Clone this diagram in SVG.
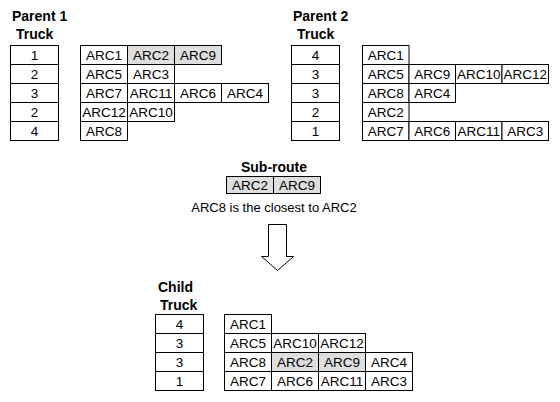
<svg xmlns="http://www.w3.org/2000/svg" width="560" height="402" viewBox="0 0 560 402">
<style>
rect{fill:#fff;stroke:#000;stroke-width:1}
rect.g{fill:#dedede}
text{font-family:"Liberation Sans",Arial,sans-serif;font-size:13.5px;fill:#000;text-anchor:middle}
text.t{font-weight:bold;font-size:14px;text-anchor:start}
text.c{font-size:13px}
</style>
<rect width="560" height="402" style="fill:#fff;stroke:none"/>
<g id="parent1">
<text class="t" x="12" y="21">Parent 1</text>
<text class="t" x="16" y="39">Truck</text>
<g id="p1-truck">
<rect x="10.5" y="45.5" width="48" height="19"/><text x="34.5" y="60">1</text>
<rect x="10.5" y="64.5" width="48" height="19"/><text x="34.5" y="79">2</text>
<rect x="10.5" y="83.5" width="48" height="19"/><text x="34.5" y="98">3</text>
<rect x="10.5" y="102.5" width="48" height="19"/><text x="34.5" y="117">2</text>
<rect x="10.5" y="121.5" width="48" height="19"/><text x="34.5" y="136">4</text>
</g>
<g id="p1-arcs">
<rect x="80.5" y="45.5" width="47" height="19"/><text x="104" y="60">ARC1</text>
<rect class="g" x="127.5" y="45.5" width="47" height="19"/><text x="151" y="60">ARC2</text>
<rect class="g" x="174.5" y="45.5" width="47" height="19"/><text x="198" y="60">ARC9</text>
<rect x="80.5" y="64.5" width="47" height="19"/><text x="104" y="79">ARC5</text>
<rect x="127.5" y="64.5" width="47" height="19"/><text x="151" y="79">ARC3</text>
<rect x="80.5" y="83.5" width="47" height="19"/><text x="104" y="98">ARC7</text>
<rect x="127.5" y="83.5" width="47" height="19"/><text x="151" y="98">ARC11</text>
<rect x="174.5" y="83.5" width="47" height="19"/><text x="198" y="98">ARC6</text>
<rect x="221.5" y="83.5" width="47" height="19"/><text x="245" y="98">ARC4</text>
<rect x="80.5" y="102.5" width="47" height="19"/><text x="104" y="117">ARC12</text>
<rect x="127.5" y="102.5" width="47" height="19"/><text x="151" y="117">ARC10</text>
<rect x="80.5" y="121.5" width="47" height="19"/><text x="104" y="136">ARC8</text>
</g>
</g>
<g id="parent2">
<text class="t" x="293" y="21">Parent 2</text>
<text class="t" x="297" y="39">Truck</text>
<g id="p2-truck">
<rect x="291.5" y="45.5" width="48" height="19"/><text x="315.5" y="60">4</text>
<rect x="291.5" y="64.5" width="48" height="19"/><text x="315.5" y="79">3</text>
<rect x="291.5" y="83.5" width="48" height="19"/><text x="315.5" y="98">3</text>
<rect x="291.5" y="102.5" width="48" height="19"/><text x="315.5" y="117">2</text>
<rect x="291.5" y="121.5" width="48" height="19"/><text x="315.5" y="136">1</text>
</g>
<g id="p2-arcs">
<rect x="362.5" y="45.5" width="46.5" height="19"/><text x="385.75" y="60">ARC1</text>
<rect x="362.5" y="64.5" width="46.5" height="19"/><text x="385.75" y="79">ARC5</text>
<rect x="409" y="64.5" width="46.5" height="19"/><text x="432.25" y="79">ARC9</text>
<rect x="455.5" y="64.5" width="46.5" height="19"/><text x="478.75" y="79">ARC10</text>
<rect x="502" y="64.5" width="46.5" height="19"/><text x="525.25" y="79">ARC12</text>
<rect x="362.5" y="83.5" width="46.5" height="19"/><text x="385.75" y="98">ARC8</text>
<rect x="409" y="83.5" width="46.5" height="19"/><text x="432.25" y="98">ARC4</text>
<rect x="362.5" y="102.5" width="46.5" height="19"/><text x="385.75" y="117">ARC2</text>
<rect x="362.5" y="121.5" width="46.5" height="19"/><text x="385.75" y="136">ARC7</text>
<rect x="409" y="121.5" width="46.5" height="19"/><text x="432.25" y="136">ARC6</text>
<rect x="455.5" y="121.5" width="46.5" height="19"/><text x="478.75" y="136">ARC11</text>
<rect x="502" y="121.5" width="46.5" height="19"/><text x="525.25" y="136">ARC3</text>
</g>
</g>
<g id="subroute">
<text class="t" x="274" y="172" style="text-anchor:middle">Sub-route</text>
<rect class="g" x="226.5" y="176.5" width="47" height="17"/><text x="250" y="190">ARC2</text>
<rect class="g" x="273.5" y="176.5" width="47" height="17"/><text x="297" y="190">ARC9</text>
<text class="c" x="274" y="212">ARC8 is the closest to ARC2</text>
</g>
<g id="connectors">
<path d="M268.5,224.5 H286.5 V256.5 H293.5 L277.5,270.5 L261.5,256.5 H268.5 Z" fill="#fff" stroke="#000" stroke-width="1"/>
</g>
<g id="child">
<text class="t" x="158" y="292">Child</text>
<text class="t" x="160" y="310">Truck</text>
<g id="c-truck">
<rect x="155.5" y="314.5" width="48" height="19"/><text x="179.5" y="329">4</text>
<rect x="155.5" y="333.5" width="48" height="19"/><text x="179.5" y="348">3</text>
<rect x="155.5" y="352.5" width="48" height="19"/><text x="179.5" y="367">3</text>
<rect x="155.5" y="371.5" width="48" height="19"/><text x="179.5" y="386">1</text>
</g>
<g id="c-arcs">
<rect x="224.5" y="314.5" width="47" height="19"/><text x="248" y="329">ARC1</text>
<rect x="224.5" y="333.5" width="47" height="19"/><text x="248" y="348">ARC5</text>
<rect x="271.5" y="333.5" width="47" height="19"/><text x="295" y="348">ARC10</text>
<rect x="318.5" y="333.5" width="47" height="19"/><text x="342" y="348">ARC12</text>
<rect x="224.5" y="352.5" width="47" height="19"/><text x="248" y="367">ARC8</text>
<rect class="g" x="271.5" y="352.5" width="47" height="19"/><text x="295" y="367">ARC2</text>
<rect class="g" x="318.5" y="352.5" width="47" height="19"/><text x="342" y="367">ARC9</text>
<rect x="365.5" y="352.5" width="47" height="19"/><text x="389" y="367">ARC4</text>
<rect x="224.5" y="371.5" width="47" height="19"/><text x="248" y="386">ARC7</text>
<rect x="271.5" y="371.5" width="47" height="19"/><text x="295" y="386">ARC6</text>
<rect x="318.5" y="371.5" width="47" height="19"/><text x="342" y="386">ARC11</text>
<rect x="365.5" y="371.5" width="47" height="19"/><text x="389" y="386">ARC3</text>
</g>
</g>
</svg>
